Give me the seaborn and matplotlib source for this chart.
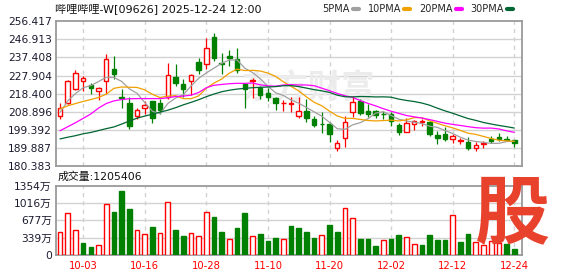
import numpy as np
import pandas as pd
import matplotlib
matplotlib.use("Agg")
import matplotlib.pyplot as plt
import seaborn as sns
from matplotlib.lines import Line2D

# ---------------- data ----------------
dates = ["09-29", "09-30", "10-02", "10-03", "10-06", "10-08", "10-09", "10-10",
         "10-13", "10-14", "10-15", "10-16", "10-17", "10-20", "10-21", "10-22",
         "10-23", "10-24", "10-27", "10-28", "10-30", "10-31", "11-03", "11-04",
         "11-05", "11-06", "11-07", "11-10", "11-11", "11-12", "11-13", "11-14",
         "11-17", "11-18", "11-19", "11-20", "11-21", "11-24", "11-25", "11-26",
         "11-27", "11-28", "12-01", "12-02", "12-03", "12-04", "12-05", "12-08",
         "12-09", "12-10", "12-11", "12-12", "12-15", "12-16", "12-17", "12-18",
         "12-19", "12-22", "12-23", "12-24"]

open_ = [206.8, 213.7, 221.1, 225.1, 222.8, 219.8, 225.1, 231.5, 216.5, 213.7,
         206.4, 210.8, 214.3, 213.7, 216.4, 227.3, 223.3, 225.1, 235.2, 234.1,
         248.2, 234.7, 238.1, 236.4, 223.3, 225.2, 221.6, 219.0, 216.2, 213.4,
         213.2, 206.8, 209.4, 205.0, 202.6, 202.4, 189.7, 195.1, 208.9, 214.6,
         209.1, 209.4, 207.8, 207.7, 202.1, 198.4, 202.4, 203.5, 203.3, 196.9,
         197.2, 194.6, 193.5, 192.9, 189.9, 191.8, 194.4, 195.5, 194.8, 193.9]
high = [213.7, 225.6, 231.0, 227.5, 224.0, 222.1, 239.4, 238.3, 221.1, 216.4,
        210.8, 214.6, 214.6, 215.8, 234.3, 234.1, 226.3, 228.9, 237.3, 247.4,
        250.3, 239.9, 241.3, 242.5, 223.7, 226.8, 222.5, 221.6, 216.7, 215.0,
        216.7, 216.9, 215.5, 206.8, 208.5, 203.3, 194.1, 206.4, 217.2, 215.5,
        212.9, 209.7, 209.1, 208.9, 202.8, 205.6, 204.7, 205.0, 203.8, 198.9,
        200.7, 197.2, 195.1, 195.8, 192.9, 193.4, 196.0, 197.5, 196.3, 194.2]
low = [205.0, 212.9, 220.5, 219.8, 218.1, 215.0, 218.1, 225.9, 210.8, 199.8,
       205.0, 207.7, 202.8, 207.7, 215.5, 222.5, 216.4, 217.8, 228.6, 231.2,
       235.5, 228.6, 232.9, 229.4, 211.1, 216.0, 215.5, 214.6, 209.7, 209.1,
       208.5, 205.6, 203.3, 200.7, 197.7, 192.9, 188.0, 190.6, 206.3, 207.1,
       205.9, 205.6, 205.0, 201.6, 196.9, 198.1, 199.3, 201.6, 196.2, 192.0,
       193.4, 192.3, 192.0, 188.8, 188.5, 189.9, 192.3, 193.4, 193.4, 190.6]
close = [211.1, 225.1, 229.2, 226.6, 221.2, 221.6, 236.6, 228.6, 216.2, 201.6,
         209.9, 212.5, 205.6, 209.9, 228.2, 224.2, 221.1, 228.2, 230.6, 242.3,
         236.9, 233.8, 236.9, 230.6, 220.7, 225.4, 217.8, 216.9, 213.6, 213.7,
         213.4, 209.4, 205.6, 202.1, 202.3, 197.2, 192.7, 203.7, 214.1, 208.0,
         207.7, 207.3, 207.5, 204.2, 198.1, 202.9, 204.2, 204.0, 197.2, 195.1,
         194.6, 196.3, 194.1, 189.7, 191.6, 192.3, 193.5, 194.4, 194.3, 192.5]
volume = [443, 814, 482, 234, 156, 189, 990, 840, 1250, 898,
          482, 404, 547, 423, 1029, 488, 371, 423, 365, 833,
          742, 449, 306, 527, 820, 365, 410, 273, 332, 306,
          566, 527, 449, 332, 384, 586, 449, 911, 716, 312,
          312, 176, 286, 312, 391, 345, 208, 195, 391, 293,
          293, 775, 254, 410, 260, 189, 280, 230, 215, 120.5]  # 万股

ma5_head = [208.5, 214.6, 218.4, 221.5]
ma10_head = [210.4, 212.0, 213.2, 214.3, 215.3, 216.4, 218.1, 221.2, 221.9]
ma20_head = [198.9, 201.0, 203.1, 205.4, 207.7, 210.8, 213.2, 214.6, 215.3, 215.7,
             215.8, 215.8, 215.8, 215.8, 216.2, 216.9, 217.1, 217.6, 219.0]
ma30_head = [194.6, 195.5, 196.3, 197.3, 198.0, 199.0, 200.0, 200.9, 202.4, 204.0,
             205.5, 206.6, 207.6, 208.7, 209.7, 211.0, 212.5, 213.8, 215.2, 216.8,
             218.2, 219.4, 220.2, 220.8, 221.2, 221.5, 221.7, 221.9, 222.1]

tick_dates = ["10-03", "10-16", "10-28", "11-10", "11-20", "12-02", "12-12", "12-24"]
price_tick_labels = ["180.383", "189.887", "199.392", "208.896", "218.400",
                     "227.904", "237.408", "246.913", "256.417"]
vol_tick_values = [0, 338.5, 677, 1015.5, 1354]
vol_tick_labels = ["0", "339万", "677万", "1016万", "1354万"]
title = "哔哩哔哩-W[09626] 2025-12-24 12:00"
vol_title = "成交量:1205406"
ma_names = ["5PMA", "10PMA", "20PMA", "30PMA"]

# ---------------- styling ----------------
sns.set_theme(style="white")
plt.rcParams['font.family'] = ['DejaVu Sans', 'Noto Sans CJK SC']
plt.rcParams['axes.unicode_minus'] = False

RED = "#ff0000"
GREEN = "#008000"
ma_colors = ["#a0a0a0", "#f0a000", "#ff00ff", "#006633"]
GRID = "#d2d2d2"
FRAME = "#9a9a9a"
TXT = "#1a1a2e"

n = len(close)
x = np.arange(n)
df = pd.DataFrame({"x": x, "date": dates, "open": open_, "high": high,
                   "low": low, "close": close, "volume": volume})

heads = [ma5_head, ma10_head, ma20_head, ma30_head]
for win, head, name in zip([5, 10, 20, 30], heads, ma_names):
    roll = df["close"].rolling(win).mean().to_numpy()
    roll[:win - 1] = head
    df[name] = roll

up = df["close"] >= df["open"]
prev_close = df["close"].shift(1)
vol_up = (df["close"] > prev_close)
vol_up.iloc[0] = up.iloc[0]

fig = plt.figure(figsize=(5.78, 2.76), dpi=100)
ax = fig.add_axes([0.0969, 0.3986, 0.8062, 0.5242])
axv = fig.add_axes([0.0969, 0.0761, 0.8062, 0.2511])

xlim = (-0.52, 60.0)
tick_pos = [dates.index(d) for d in tick_dates]

for a in (ax, axv):
    a.set_xlim(*xlim)
    a.set_facecolor("white")
    for s in a.spines.values():
        s.set_color(FRAME)
        s.set_linewidth(1.3)
    a.tick_params(axis="both", length=0, pad=3)
    a.set_axisbelow(True)
    for tp in tick_pos:
        a.axvline(tp, color=GRID, lw=1.0, ls=(0, (3, 3)), zorder=0.5)

# price panel
pvals = [float(v) for v in price_tick_labels]
ax.set_ylim(pvals[0], pvals[-1])
ax.set_yticks(pvals)
ax.set_yticklabels(price_tick_labels, fontsize=7.7, color=TXT)
for v in pvals[1:-1]:
    ax.axhline(v, color=GRID, lw=1.0, zorder=0.5)
ax.set_xticks([])

# faint watermark behind the candles
ax.text(0.54, 0.53, "东方财富", transform=ax.transAxes, fontsize=24,
        color="#ececec", ha="center", va="center", fontweight="bold",
        family=['Noto Sans CJK SC', 'DejaVu Sans'], zorder=1)

w = 0.58
for i, r in df.iterrows():
    col = RED if up[i] else GREEN
    ax.vlines(r["x"], r["low"], r["high"], color=col, lw=0.9, zorder=2)
    bottom = min(r["open"], r["close"])
    height = max(abs(r["close"] - r["open"]), 0.05)
    ax.bar(r["x"], height, bottom=bottom, width=w,
           facecolor="white" if up[i] else GREEN, edgecolor=col,
           linewidth=1.0, zorder=3)

for name, c in zip(ma_names, ma_colors):
    sns.lineplot(data=df, x="x", y=name, ax=ax, color=c, lw=0.9,
                 legend=False, zorder=4)
ax.set_xlabel("")
ax.set_ylabel("")
ax.set_xlim(*xlim)

# volume panel
axv.set_ylim(0, 1354)
axv.set_yticks(vol_tick_values)
axv.set_yticklabels(vol_tick_labels, fontsize=7.7, color=TXT)
for v in vol_tick_values[1:-1]:
    axv.axhline(v, color=GRID, lw=1.0, zorder=0.5)
vcols = [RED if u else GREEN for u in vol_up]
axv.bar(df["x"], df["volume"], width=0.6,
        facecolor=["white" if u else GREEN for u in vol_up],
        edgecolor=vcols, linewidth=1.0, zorder=3)
axv.set_xticks(tick_pos)
axv.set_xticklabels(tick_dates, fontsize=7.2, color=RED)
axv.tick_params(axis="x", pad=4)

# texts
fig.text(55 / 578, 1 - 9 / 276, title, fontsize=8, color="#111111",
         ha="left", va="center")
fig.text(58 / 578, 1 - 177 / 276, vol_title, fontsize=7.8, color="#111111",
         ha="left", va="center")

handles = [Line2D([], [], color=c, lw=3) for c in ma_colors]
fig.legend(handles, ma_names, loc="center right",
           bbox_to_anchor=(513 / 578, 1 - 9 / 276), ncol=4, frameon=False,
           markerfirst=False, handlelength=0.6, handletextpad=0.35,
           columnspacing=0.9, fontsize=7, borderpad=0, borderaxespad=0)

fig.text(512 / 578, 1 - 215 / 276, "股", fontsize=54, color="#e8412c",
         ha="center", va="center", fontweight="bold",
         family=['Noto Sans CJK SC', 'DejaVu Sans'], zorder=10)

fig.savefig("out.png", dpi=100)
